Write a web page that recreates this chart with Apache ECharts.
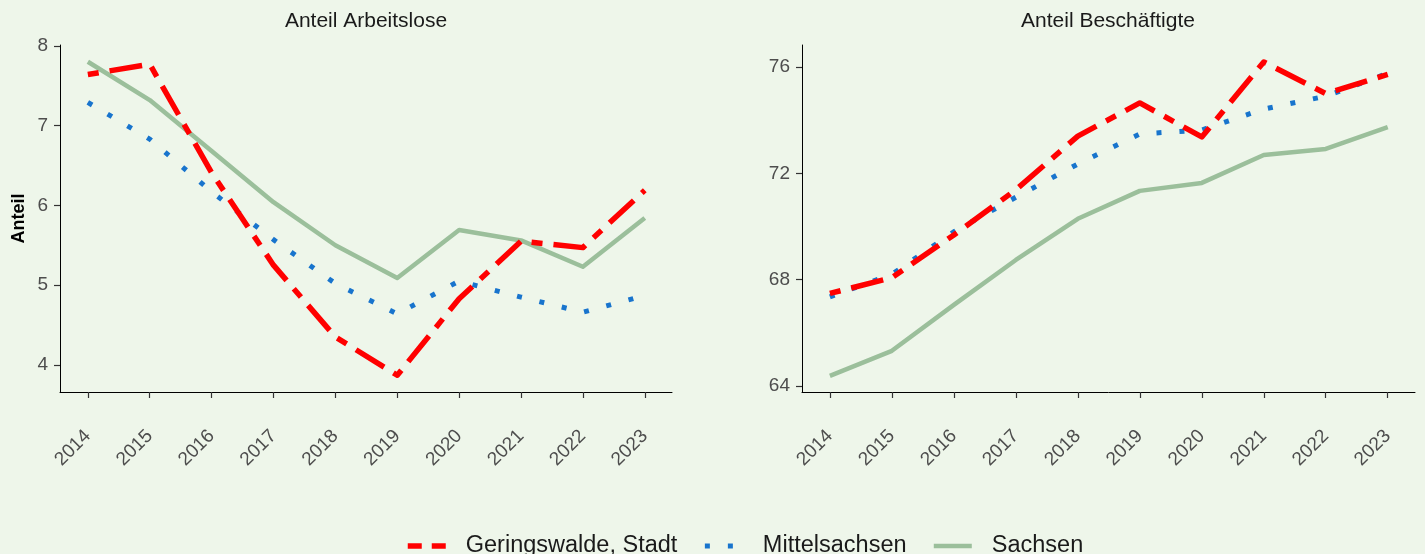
<!DOCTYPE html>
<html>
<head>
<meta charset="utf-8">
<script src="https://cdn.jsdelivr.net/npm/echarts@6/dist/echarts.min.js"></script>
<style>
html,body{margin:0;padding:0;background:#EEF6EA;}
#chart{width:1425px;height:554px;}
</style>
</head>
<body>
<div id="chart"></div>
<script>
var years = [2014, 2015, 2016, 2017, 2018, 2019, 2020, 2021, 2022, 2023];
var seriesNames = ['Geringswalde, Stadt', 'Mittelsachsen', 'Sachsen'];
var panelTitles = ['Anteil Arbeitslose', 'Anteil Beschäftigte'];
var yAxisTitle = 'Anteil';

var arbGer = [7.64, 7.77, 6.41, 5.25, 4.35, 3.87, 4.83, 5.55, 5.47, 6.19];
var arbMit = [7.29, 6.83, 6.17, 5.57, 5.02, 4.64, 5.05, 4.85, 4.66, 4.87];
var arbSac = [7.80, 7.32, 6.68, 6.04, 5.50, 5.09, 5.69, 5.56, 5.23, 5.84];

var besGer = [67.48, 68.07, 69.68, 71.38, 73.40, 74.65, 73.37, 76.19, 75.00, 75.72];
var besMit = [67.35, 68.20, 69.80, 71.10, 72.35, 73.48, 73.63, 74.42, 74.90, 75.77];
var besSac = [64.38, 65.32, 67.05, 68.74, 70.29, 71.34, 71.64, 72.69, 72.92, 73.74];

var yTicksLeft = [4, 5, 6, 7, 8];
var yTicksRight = [64, 68, 72, 76];

var FONT = 'Liberation Sans, Arial, Helvetica, sans-serif';
var colors = ['#FF0000', '#1874CD', '#9BBF9B'];
var widths = [5.5, 5, 4.5];
var dashes = [[11, 11, 33, 11], [5, 18], 'solid'];
var zs = [4, 3, 2];

function pairs(vals) { return years.map(function (y, i) { return [y, vals[i]]; }); }

function xAxis(gi) {
  return {
    type: 'value', gridIndex: gi, min: 2013.55, max: 2023.44,
    axisLine: { show: true, lineStyle: { color: '#000', width: 1 } },
    axisTick: { show: true, length: 6, lineStyle: { color: '#333', width: 1.2 }, customValues: years },
    axisLabel: { show: true, customValues: years, rotate: 45, margin: 41, color: '#4D4D4D', fontSize: 19, fontFamily: FONT, formatter: function (v) { return String(v); } },
    splitLine: { show: false }
  };
}
function yAxis(gi, min, max, ticks, name) {
  var a = {
    type: 'value', gridIndex: gi, min: min, max: max,
    axisLine: { show: true, lineStyle: { color: '#000', width: 1 } },
    axisTick: { show: true, length: 6, lineStyle: { color: '#333', width: 1.2 }, customValues: ticks },
    axisLabel: { show: true, customValues: ticks, margin: 12, color: '#4D4D4D', fontSize: 19, fontFamily: FONT },
    splitLine: { show: false }
  };
  if (name) {
    a.name = name; a.nameLocation = 'middle'; a.nameGap = 32;
    a.nameTextStyle = { fontSize: 18, fontWeight: 'bold', color: '#000', fontFamily: FONT };
  }
  return a;
}
function line(name, vals, idx, gi) {
  return {
    type: 'line', name: name, xAxisIndex: gi, yAxisIndex: gi, data: pairs(vals),
    symbol: 'none', showSymbol: false, z: zs[idx], silent: true, animation: false,
    lineStyle: { color: colors[idx], width: widths[idx], type: dashes[idx], cap: 'butt', join: 'round' },
    itemStyle: { color: colors[idx] }
  };
}
var hiddenSymbol = { color: 'rgba(0,0,0,0)', borderColor: 'rgba(0,0,0,0)', borderWidth: 0, opacity: 0 };

var chart = echarts.init(document.getElementById('chart'), null, { renderer: 'canvas' });
chart.setOption({
  backgroundColor: '#EEF6EA',
  animation: false,
  title: [
    { text: panelTitles[0], left: 366, top: 11, padding: 0, textAlign: 'center', textStyle: { fontSize: 21, fontWeight: 'normal', color: '#1A1A1A', fontFamily: FONT } },
    { text: panelTitles[1], left: 1108, top: 11, padding: 0, textAlign: 'center', textStyle: { fontSize: 21, fontWeight: 'normal', color: '#1A1A1A', fontFamily: FONT } }
  ],
  grid: [
    { left: 60, right: 753, top: 45, bottom: 162, containLabel: false },
    { left: 802, right: 10, top: 45, bottom: 162, containLabel: false }
  ],
  xAxis: [xAxis(0), xAxis(1)],
  yAxis: [yAxis(0, 3.66, 8.01, yTicksLeft, yAxisTitle), yAxis(1, 63.77, 76.83, yTicksRight, null)],
  legend: {
    show: true, left: 405, top: 534, padding: 0, itemWidth: 38, itemHeight: 14, itemGap: 25,
    itemStyle: hiddenSymbol,
    textStyle: { fontSize: 23.5, color: '#1A1A1A', fontFamily: FONT, padding: [0, 0, 0, 15] },
    data: [
      { name: seriesNames[0], itemStyle: hiddenSymbol, lineStyle: { type: [14, 10], width: 5.5, color: colors[0] } },
      { name: seriesNames[1], itemStyle: hiddenSymbol, lineStyle: { type: [5, 18], width: 5, color: colors[1] } },
      { name: seriesNames[2], itemStyle: hiddenSymbol, lineStyle: { type: 'solid', width: 4.5, color: colors[2] } }
    ]
  },
  series: [
    line(seriesNames[0], arbGer, 0, 0),
    line(seriesNames[1], arbMit, 1, 0),
    line(seriesNames[2], arbSac, 2, 0),
    line(seriesNames[0], besGer, 0, 1),
    line(seriesNames[1], besMit, 1, 1),
    line(seriesNames[2], besSac, 2, 1)
  ]
});
</script>
</body>
</html>
